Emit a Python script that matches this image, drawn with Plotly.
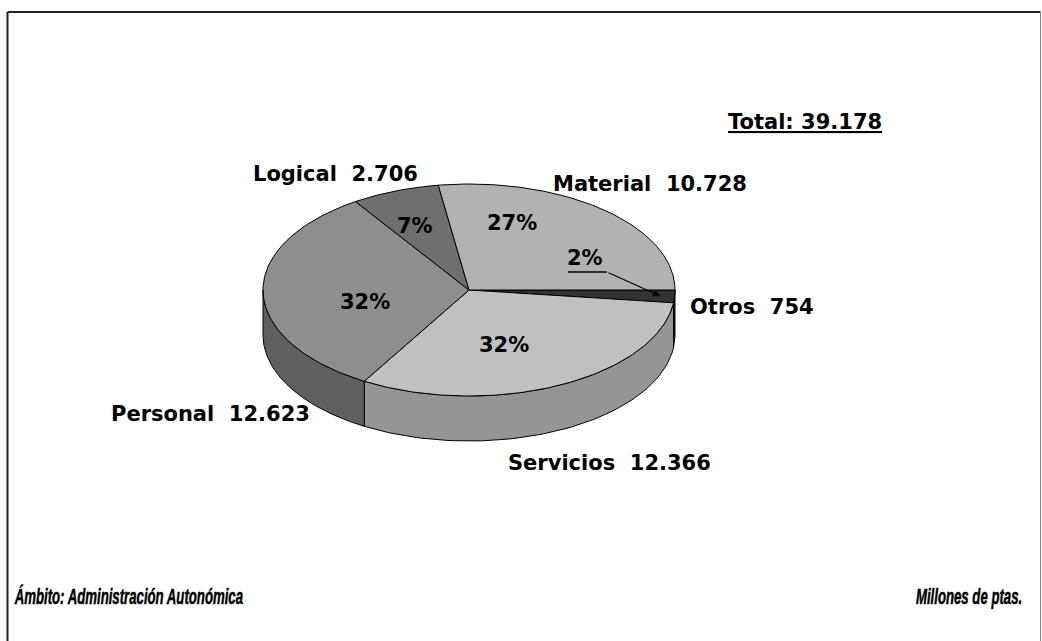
import numpy as np
import plotly.graph_objects as go

# Gasto por concepto (millones de pesetas), drawn clockwise from 3 o'clock
categories = ["Otros", "Servicios", "Personal", "Logical", "Material"]
values = [754, 12366, 12623, 2706, 10728]
published_total = 39178  # total as published (components are rounded)
top_colors = ["#333333", "#c0c0c0", "#8e8e8e", "#6f6f6f", "#b2b2b2"]
side_colors = ["#262626", "#959595", "#606060", "#4c4c4c", "#7c7c7c"]

# Label centres (page pixels)
name_pos = {
    "Otros": (752, 307),
    "Servicios": (609, 463),
    "Personal": (210, 414),
    "Logical": (335, 174),
    "Material": (650, 184),
}
pct_pos = {
    "Otros": (585, 258),
    "Servicios": (504, 345),
    "Personal": (365, 302),
    "Logical": (415, 226),
    "Material": (512, 223),
}

W, H = 1042, 641
CX, CY, RX, RY, DEPTH = 469, 290, 206, 106, 45

total = sum(values)
shares = np.array(values, dtype=float) / total
ends = -np.cumsum(shares) * 360.0
starts = ends + shares * 360.0


def ell(t_deg, dy=0.0):
    t = np.radians(t_deg)
    return CX + RX * np.cos(t), CY - RY * np.sin(t) + dy


def fmt(v):
    return f"{v:,}".replace(",", ".")


fig = go.Figure()

# side walls of the visible (front) half
for i, cat in enumerate(categories):
    hi = min(starts[i], 0.0)
    lo = max(ends[i], -180.0)
    if hi <= lo:
        continue
    t = np.linspace(hi, lo, 80)
    xt, yt = ell(t)
    xb, yb = ell(t[::-1], DEPTH)
    xs = np.concatenate([xt, xb, xt[:1]])
    ys = np.concatenate([yt, yb, yt[:1]])
    fig.add_trace(go.Scatter(x=xs, y=ys, mode="lines", fill="toself",
                             fillcolor=side_colors[i],
                             line=dict(color="black", width=1),
                             hoverinfo="skip", showlegend=False))

# top faces
for i, cat in enumerate(categories):
    t = np.linspace(starts[i], ends[i], 120)
    xa, ya = ell(t)
    xs = np.concatenate([[CX], xa, [CX]])
    ys = np.concatenate([[CY], ya, [CY]])
    fig.add_trace(go.Scatter(x=xs, y=ys, mode="lines", fill="toself",
                             fillcolor=top_colors[i],
                             line=dict(color="black", width=1),
                             name=cat, hoverinfo="name", showlegend=False))

label_font = dict(family="DejaVu Sans", size=21, color="black", weight="bold")
foot_font = dict(family="Liberation Sans, Arial", size=22, color="black",
                 weight="bold", style="italic")

for i, cat in enumerate(categories):
    x, y = name_pos[cat]
    fig.add_annotation(x=x, y=y, xref="x", yref="y", showarrow=False,
                       text=f"{cat}  {fmt(values[i])}", font=label_font,
                       xanchor="center", yanchor="middle")
    px, py = pct_pos[cat]
    fig.add_annotation(x=px, y=py, xref="x", yref="y", showarrow=False,
                       text=f"{round(shares[i] * 100)}%", font=label_font,
                       xanchor="center", yanchor="middle")

# leader for the small slice
mid = (starts[0] + ends[0]) / 2
tip_x = CX + RX * 0.93 * np.cos(np.radians(mid))
tip_y = CY - RY * 0.93 * np.sin(np.radians(mid))
fig.add_shape(type="line", x0=568, y0=272, x1=607, y1=272, xref="x", yref="y",
              line=dict(color="black", width=1.3))
fig.add_annotation(x=tip_x, y=tip_y, ax=607, ay=272, xref="x", yref="y",
                   axref="x", ayref="y", text="", showarrow=True,
                   arrowhead=2, arrowsize=1.3, arrowwidth=1.1, arrowcolor="black")

fig.add_annotation(x=805, y=122, xref="x", yref="y", showarrow=False,
                   text=f"<u>Total: {fmt(published_total)}</u>", font=label_font,
                   xanchor="center", yanchor="middle")

fig.add_annotation(x=12, y=596, xref="x", yref="y", showarrow=False,
                   text="Ámbito: Administración Autonómica", font=foot_font,
                   xanchor="left", yanchor="middle")
fig.add_annotation(x=1024, y=596, xref="x", yref="y", showarrow=False,
                   text="Millones de ptas.", font=foot_font,
                   xanchor="right", yanchor="middle")

# frame
fig.add_shape(type="line", x0=7.5, y0=12, x1=7.5, y1=H + 5, xref="x", yref="y",
              line=dict(color="#222222", width=2))
fig.add_shape(type="line", x0=7.5, y0=12, x1=1040.5, y1=12, xref="x", yref="y",
              line=dict(color="#222222", width=2))
fig.add_shape(type="line", x0=1040.5, y0=12, x1=1040.5, y1=H + 5, xref="x", yref="y",
              line=dict(color="#888888", width=1))

fig.update_layout(
    width=W, height=H,
    margin=dict(l=0, r=0, t=0, b=0),
    paper_bgcolor="white", plot_bgcolor="white",
    xaxis=dict(range=[0, W], visible=False, fixedrange=True),
    yaxis=dict(range=[H, 0], visible=False, fixedrange=True),
    showlegend=False,
)

# footer lines are set in a condensed, heavy cut
condense = """
document.querySelectorAll('.annotation-text').forEach(function (t) {
  var s = t.textContent;
  if (s.indexOf('\\u00c1mbito') === 0 || s.indexOf('Millones') === 0) {
    t.style.transformBox = 'fill-box';
    t.style.transformOrigin = s.indexOf('Millones') === 0 ? 'right center' : 'left center';
    t.style.transform = 'scaleX(0.6)';
    t.style.stroke = 'black';
    t.style.strokeWidth = '0.5px';
  }
});
"""

fig.write_html("out.html", post_script=condense)
